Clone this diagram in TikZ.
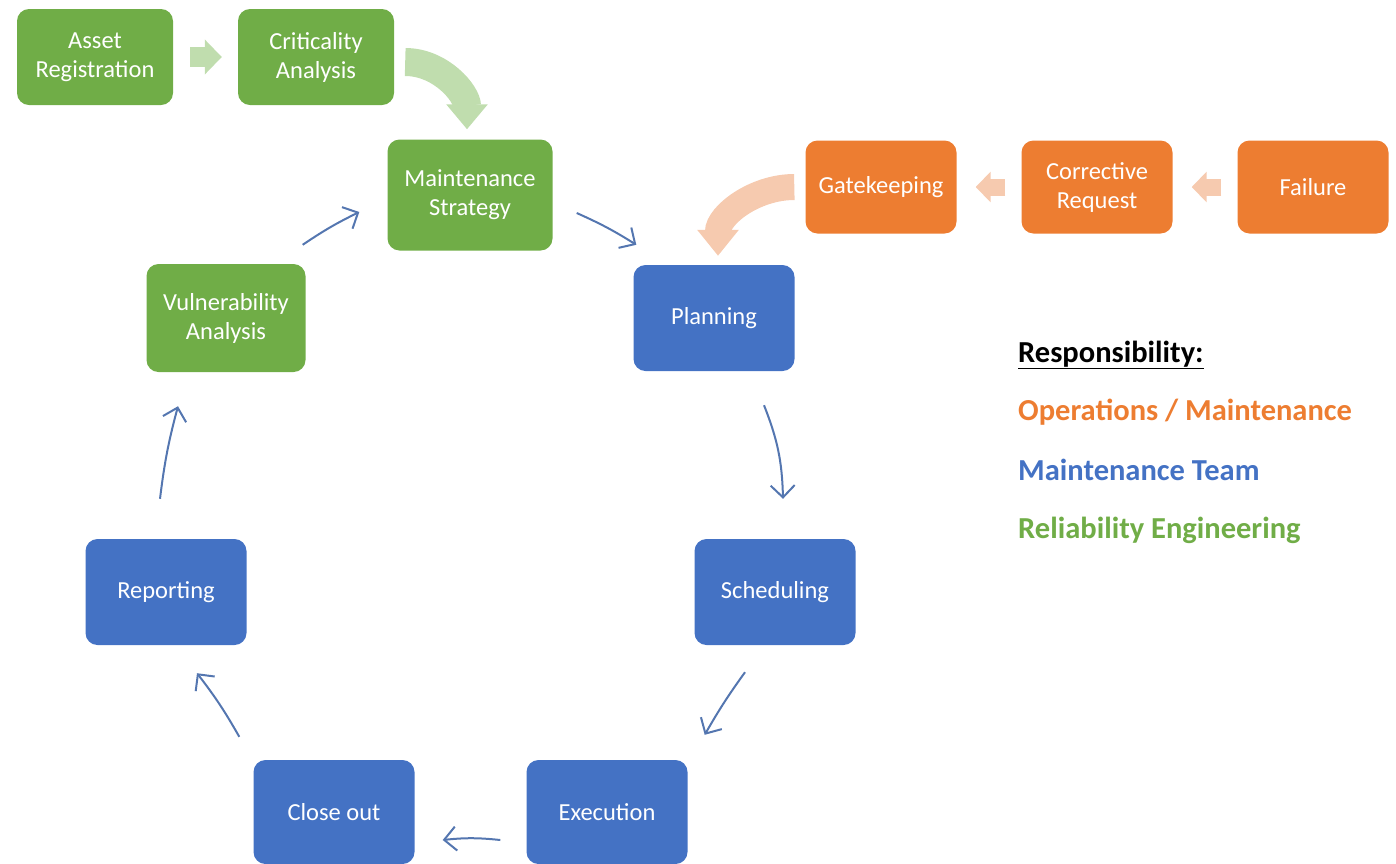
\documentclass[tikz,border=0pt]{standalone}
\usepackage{fontspec}
\setmainfont{Carlito}
\usetikzlibrary{arrows.meta}

\definecolor{relgreen}{RGB}{112,173,71}
\definecolor{teamblue}{RGB}{68,114,196}
\definecolor{opsorange}{RGB}{237,125,49}
\definecolor{palegreen}{RGB}{192,221,174}
\definecolor{paleorange}{RGB}{246,202,175}
\definecolor{cyclecol}{RGB}{84,118,176}

\tikzset{
  stage/.style={rounded corners=12pt, text=white, align=center, inner sep=0pt,
    font=\fontsize{24.5}{29}\selectfont},
  rel/.style={stage, fill=relgreen},
  team/.style={stage, fill=teamblue, minimum width=161, minimum height=106},
  ops/.style={stage, fill=opsorange, minimum width=151, minimum height=93},
  flow/.style={draw=cyclecol, line width=2pt, -{Straight Barb[length=12pt,width=24pt]}},
  legend/.style={anchor=west, inner sep=0pt, font=\bfseries\fontsize{30.5}{36}\selectfont}
}

\begin{document}
\begin{tikzpicture}[x=1pt,y=-1pt]
    \useasboundingbox (0,0) rectangle (1396,863);

    \node [rel, minimum width=156, minimum height=96] (asset) at (95,57) {Asset\\Registration};
    \node [rel, minimum width=156, minimum height=96] (crit) at (316,57) {Criticality\\Analysis};
    \node [rel, minimum width=165, minimum height=111] (strat) at (470,195) {Maintenance\\Strategy};
    \node [rel, minimum width=159, minimum height=108] (vuln) at (226,318) {Vulnerability\\Analysis};

    \node [team] (plan) at (714,318) {Planning};
    \node [team] (sched) at (775,592) {Scheduling};
    \node [team, minimum height=104] (exec) at (607,812) {Execution};
    \node [team, minimum height=104] (close) at (334,812) {Close out};
    \node [team] (report) at (166,592) {Reporting};

    \node [ops] (gate) at (881,187) {Gatekeeping};
    \node [ops] (corr) at (1097,187) {Corrective\\Request};
    \node [ops] (fail) at (1313,187) {Failure};

    \draw [palegreen, line width=20, -{Triangle[length=17pt,width=34pt]}, shorten <=17, shorten >=16] (asset) -- (crit);
    \draw [palegreen, line width=28, -{Triangle[length=25pt,width=40pt]}] ([shift={(11,5)}]crit.east) to [out=0,in=90] ([shift={(-3,-10)}]strat.north);

    \draw [paleorange, line width=17, -{Triangle[length=15pt,width=30pt]}, shorten <=16, shorten >=19] (fail) -- (corr);
    \draw [paleorange, line width=17, -{Triangle[length=15pt,width=30pt]}, shorten <=16, shorten >=19] (corr) -- (gate);
    \draw [paleorange, line width=26, -{Triangle[length=26pt,width=40pt]}] ([shift={(-11,0)}]gate.west) to [out=180,in=90] ([shift={(4,-9)}]plan.north);

    \draw [flow] ([shift={(-3,-19)}]vuln.north east) to [bend left=4] ([shift={(-28,17)}]strat.west);
    \draw [flow] ([shift={(24,18)}]strat.east) to [bend left=4] ([shift={(3,-20)}]plan.north west);
    \draw [flow] ([shift={(50,34)}]plan.south) to [bend left=10] ([shift={(8,-40)}]sched.north);
    \draw [flow] ([shift={(-30,27)}]sched.south) to [bend right=3] ([shift={(17,-25)}]exec.north east);
    \draw [flow] ([shift={(-26,28)}]exec.west) to [bend right=6] ([shift={(28,28)}]close.east);
    \draw [flow] ([shift={(-14,-23)}]close.north west) to [bend right=4] ([shift={(31,28)}]report.south);
    \draw [flow] ([shift={(-6,-40)}]report.north) to [bend left=4] ([shift={(-48,34)}]vuln.south);

    \node [legend] (resp) at (1018,355) {\underline{Responsibility:}};
    \node [legend, text=opsorange] (opsleg) at (1018,412) {Operations / Maintenance};
    \node [legend, text=teamblue] (teamleg) at (1018,470) {Maintenance Team};
    \node [legend, text=relgreen] (relleg) at (1018,530) {Reliability Engineering};
\end{tikzpicture}
\end{document}
